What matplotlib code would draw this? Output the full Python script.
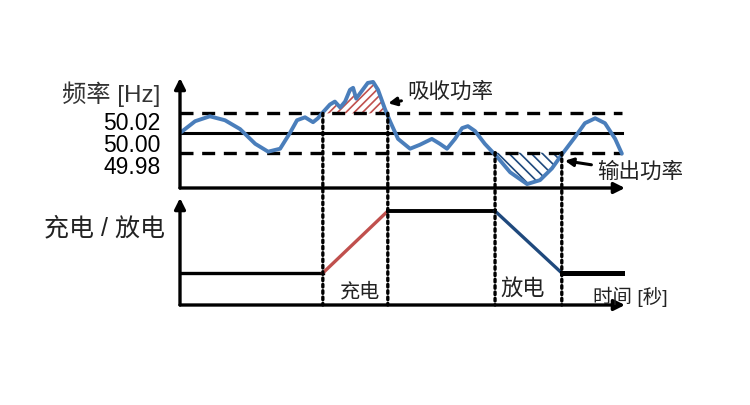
import numpy as np
import matplotlib
matplotlib.use("Agg")
import matplotlib.pyplot as plt
from matplotlib.patches import ConnectionPatch
from matplotlib.transforms import ScaledTranslation

plt.rcParams['font.family'] = ['Liberation Sans', 'Noto Sans CJK SC', 'DejaVu Sans']
plt.rcParams['hatch.linewidth'] = 1.2

# grid frequency trace, time in seconds, frequency in Hz
time_s = [0, 3.4, 6.7, 10.1, 13.5, 16.9, 19.8, 22.5, 24.7, 26.3, 28.1, 29.9, 31.0,
          32.1, 33.7, 34.8, 36.0, 37.1, 38.2, 38.9, 39.6, 40.4, 42.2, 43.4, 44.5,
          46.1, 47.2, 49.0, 51.7, 53.9, 56.6, 58.4, 60.0, 61.8, 63.4, 64.7, 66.3,
          68.5, 71.2, 74.2, 78.0, 80.9, 83.6, 85.8, 88.8, 91.0, 93.3, 95.5, 97.8, 99.3]
freq_hz = [50.000, 50.012, 50.017, 50.013, 50.004, 49.989, 49.981, 49.984, 50.000,
           50.013, 50.016, 50.011, 50.015, 50.021, 50.029, 50.032, 50.026, 50.032,
           50.044, 50.046, 50.035, 50.040, 50.051, 50.052, 50.044, 50.024, 50.012,
           49.994, 49.984, 49.988, 49.994, 49.989, 49.984, 49.994, 50.005, 50.007,
           50.002, 49.989, 49.976, 49.960, 49.948, 49.952, 49.964, 49.978, 49.996,
           50.010, 50.015, 50.010, 49.994, 49.979]

f_nominal = 50.00
f_upper = 50.02
f_lower = 49.98
freq_ticks = [50.02, 50.00, 49.98]
freq_tick_labels = ["50.02", "50.00", "49.98"]

# charge / discharge events
charge_start, charge_end = 32.1, 46.7
discharge_start, discharge_end = 70.8, 85.8
t_end = 99.3
level_low, level_high = 0, 1

blue = '#4A7EBB'
red = '#C0504D'
navy = '#1F497D'

t = np.array(time_s)
f = np.array(freq_hz)

fig = plt.figure(figsize=(7.5, 4.05), dpi=100)
ax1 = fig.add_axes([0.24, 0.5358, 0.5933, 0.2716])
ax2 = fig.add_axes([0.24, 0.2469, 0.5933, 0.2642])

for ax in (ax1, ax2):
    for s in ax.spines.values():
        s.set_visible(False)
    ax.set_xlim(0, 100)
    ax.set_xticks([])
    ax.tick_params(length=0)
    # arrowed axes
    ax.annotate('', xy=(1.0, 0), xytext=(0, 0), xycoords='axes fraction',
                arrowprops=dict(arrowstyle='-|>', lw=2.4, color='k',
                                mutation_scale=16, shrinkA=0, shrinkB=0))
    ax.annotate('', xy=(0, 1.0), xytext=(0, 0), xycoords='axes fraction',
                arrowprops=dict(arrowstyle='-|>', lw=2.4, color='k',
                                mutation_scale=16, shrinkA=0, shrinkB=0))

# --- frequency panel ---
ax1.set_ylim(49.944, 50.056)
dash = (0, (3.9, 2.6))
ax1.plot([0, t_end], [f_upper, f_upper], color='k', lw=2.4, ls=dash)
ax1.plot([0, t_end], [f_lower, f_lower], color='k', lw=2.4, ls=dash)
ax1.plot([0, t_end], [f_nominal, f_nominal], color='k', lw=2.2)

ax1.fill_between(t, f, f_upper, where=(t >= charge_start) & (t <= charge_end) & (f >= f_upper),
                 interpolate=True, facecolor='none', edgecolor=red, hatch='////', lw=0)
ax1.fill_between(t, f, f_lower, where=(t >= discharge_start) & (t <= discharge_end) & (f <= f_lower),
                 interpolate=True, facecolor='none', edgecolor=navy, hatch='\\\\\\', lw=0)
ax1.plot(t, f, color=blue, lw=2.8, solid_joinstyle='round', solid_capstyle='round')

ax1.set_yticks(freq_ticks)
ax1.set_yticklabels(freq_tick_labels, fontsize=16.5)
ax1.tick_params(axis='y', pad=14)
# labels sit a little below their lines, as in the original drawing
for lab, dy in zip(ax1.get_yticklabels(), [-0.08, -0.10, -0.12]):
    lab.set_transform(lab.get_transform() + ScaledTranslation(0, dy, fig.dpi_scale_trans))

ax1.text(-0.045, 50.039, "频率 [Hz]", transform=ax1.get_yaxis_transform(),
         ha='right', va='center', fontsize=17.5, color='#333333')

ax1.annotate("吸收功率", xy=(46.5, 50.030), xytext=(51.0, 50.042),
             ha='left', va='center', fontsize=15.5, color='#222222',
             arrowprops=dict(arrowstyle='-|>', lw=2.2, color='k', mutation_scale=12,
                             shrinkA=2, shrinkB=1))
ax1.annotate("输出功率", xy=(86.2, 49.972), xytext=(93.7, 49.960),
             ha='left', va='center', fontsize=15.5, color='#222222',
             annotation_clip=False,
             arrowprops=dict(arrowstyle='-|>', lw=2.2, color='k', mutation_scale=12,
                             shrinkA=2, shrinkB=1))

# --- charge / discharge panel ---
ymin2 = -0.516
ax2.set_ylim(ymin2, 1.21)
ax2.set_yticks([])
ax2.plot([0, charge_start], [level_low, level_low], color='k', lw=2.4)
ax2.plot([charge_start, charge_end], [level_low, level_high], color=red, lw=2.4)
ax2.plot([charge_end, discharge_start], [level_high, level_high], color='k', lw=2.8)
ax2.plot([discharge_start, discharge_end], [level_high, level_low], color=navy, lw=2.4)
ax2.plot([discharge_end, t_end], [level_low, level_low], color='k', lw=3.6)

ax2.text(-0.034, 0.726, "充电 / 放电", transform=ax2.get_yaxis_transform(),
         ha='right', va='center', fontsize=18, color='#222222')
ax2.text(40.4, -0.31, "充电", ha='center', va='center', fontsize=14.5, color='#222222')
ax2.text(76.9, -0.27, "放电", ha='center', va='center', fontsize=16, color='#222222')
ax2.text(92.8, -0.39, "时间 [秒]", ha='left', va='center', fontsize=14, color='#222222',
         clip_on=False)

# dotted event markers running through both panels
for tx, lvl in [(charge_start, f_upper), (charge_end, f_upper),
                (discharge_start, f_lower), (discharge_end, f_lower)]:
    con = ConnectionPatch(xyA=(tx, lvl), coordsA=ax1.transData,
                          xyB=(tx, ymin2), coordsB=ax2.transData,
                          color='k', lw=2.4, ls=(0, (0.8, 1.1)))
    fig.add_artist(con)

fig.savefig("out.png", dpi=100, facecolor='white')
